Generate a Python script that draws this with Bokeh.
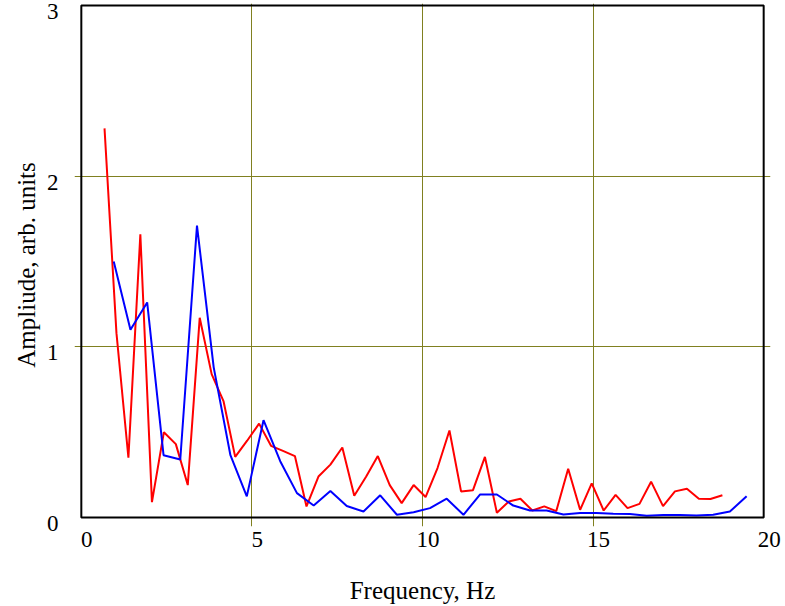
from bokeh.plotting import figure
from bokeh.embed import file_html
from bokeh.resources import INLINE
from bokeh.models import Range1d, FixedTicker, LinearAxis, BoxAnnotation

# Red series (frequency in Hz, amplitude)
red_freq = [0.68, 1.03, 1.38, 1.73, 2.07, 2.42, 2.77, 3.12, 3.47, 3.82,
            4.17, 4.51, 4.86, 5.21, 5.56, 5.91, 6.26, 6.60, 6.95, 7.30,
            7.65, 8.00, 8.35, 8.69, 9.04, 9.39, 9.74, 10.09, 10.44, 10.79,
            11.13, 11.48, 11.83, 12.18, 12.53, 12.87, 13.22, 13.57, 13.92, 14.27,
            14.62, 14.96, 15.31, 15.66, 16.01, 16.36, 16.70, 17.05, 17.40, 17.75,
            18.10, 18.44, 18.79]
red_amp = [2.28, 1.08, 0.35, 1.66, 0.09, 0.50, 0.43, 0.19, 1.17, 0.84,
           0.68, 0.355, 0.45, 0.55, 0.42, 0.39, 0.36, 0.065, 0.24, 0.31,
           0.41, 0.128, 0.24, 0.36, 0.19, 0.084, 0.19, 0.12, 0.29, 0.51,
           0.153, 0.16, 0.355, 0.028, 0.094, 0.11, 0.041, 0.065, 0.037, 0.286,
           0.045, 0.20, 0.041, 0.133, 0.055, 0.08, 0.21, 0.067, 0.153, 0.169,
           0.11, 0.108, 0.13]

# Blue series
blue_freq = [0.95, 1.44, 1.93, 2.41, 2.90, 3.39, 3.88, 4.37, 4.85, 5.34,
             5.83, 6.32, 6.81, 7.30, 7.78, 8.27, 8.76, 9.25, 9.74, 10.22,
             10.71, 11.20, 11.69, 12.18, 12.66, 13.15, 13.64, 14.13, 14.62, 15.10,
             15.59, 16.08, 16.57, 17.06, 17.54, 18.03, 18.52, 19.01, 19.50]
blue_amp = [1.50, 1.10, 1.26, 0.365, 0.34, 1.71, 0.88, 0.365, 0.124, 0.57,
            0.33, 0.143, 0.07, 0.155, 0.067, 0.035, 0.13, 0.016, 0.031, 0.055,
            0.11, 0.016, 0.135, 0.135, 0.07, 0.041, 0.041, 0.018, 0.027, 0.027,
            0.022, 0.02, 0.01, 0.014, 0.014, 0.012, 0.016, 0.035, 0.124]

x_ticks = [0, 5, 10, 15, 20]
x_tick_labels = ["0", "5", "10", "15", "20"]
y_ticks = [0, 1, 2, 3]
y_tick_labels = ["0", "1", "2", "3"]
x_lim = (0, 20)
y_lim = (0, 3)

FONT = "Liberation Serif"

# view ranges a little wider than the plotted box so shifted tick labels stay in range
XR = (-0.2, 20.2)
YR = (-0.0527, 3.0117)
DX = 0.16   # x tick labels sit ~5 px right of their tick
DY = 0.035  # y tick labels sit ~6 px below their tick

p = figure(width=785, height=606, output_backend="svg", toolbar_location=None,
           x_range=Range1d(*XR), y_range=Range1d(*YR),
           x_axis_location=None, y_axis_location=None,
           min_border_left=74, min_border_right=15, min_border_top=3, min_border_bottom=80)
p.outline_line_color = None

p.extra_x_ranges = {"xlab": Range1d(XR[0] - DX, XR[1] - DX)}
p.extra_y_ranges = {"ylab": Range1d(YR[0] + DY, YR[1] + DY)}

p.line(red_freq, red_amp, line_color="#ff0000", line_width=2)
p.line(blue_freq, blue_amp, line_color="#0000ff", line_width=2)

# plot box
p.add_layout(BoxAnnotation(left=x_lim[0], right=x_lim[1], bottom=y_lim[0], top=y_lim[1],
                           fill_color=None, fill_alpha=0, line_color="black",
                           line_alpha=1.0, line_width=2))


def style(ax):
    ax.axis_line_color = None
    ax.major_tick_line_color = None
    ax.minor_tick_line_color = None
    ax.major_label_text_font = FONT
    ax.major_label_text_font_size = "23px"
    ax.major_label_text_color = "black"
    ax.axis_label_text_font = FONT
    ax.axis_label_text_font_size = "25px"
    ax.axis_label_text_font_style = "normal"
    ax.axis_label_text_color = "black"


xlab = LinearAxis(x_range_name="xlab", ticker=FixedTicker(ticks=x_ticks),
                  major_label_overrides={t: s for t, s in zip(x_ticks, x_tick_labels)},
                  major_label_standoff=-1)
style(xlab)
p.add_layout(xlab, "below")

xtitle = LinearAxis(ticker=FixedTicker(ticks=[]), axis_label="Frequency, Hz",
                    axis_label_standoff=27, major_label_standoff=0)
style(xtitle)
p.add_layout(xtitle, "below")

ylab = LinearAxis(y_range_name="ylab", ticker=FixedTicker(ticks=y_ticks),
                  major_label_overrides={t: s for t, s in zip(y_ticks, y_tick_labels)},
                  major_label_standoff=10, axis_label="Ampliude, arb. units",
                  axis_label_standoff=4)
style(ylab)
p.add_layout(ylab, "left")

p.xgrid.ticker = FixedTicker(ticks=[5, 10, 15])
p.ygrid.ticker = FixedTicker(ticks=[1, 2])
p.xgrid.bounds = y_lim
p.ygrid.bounds = x_lim
p.grid.grid_line_color = "#808020"
p.grid.grid_line_width = 1

p.background_fill_color = "white"
p.border_fill_color = "white"

open("out.html", "w").write(file_html(p, INLINE))
